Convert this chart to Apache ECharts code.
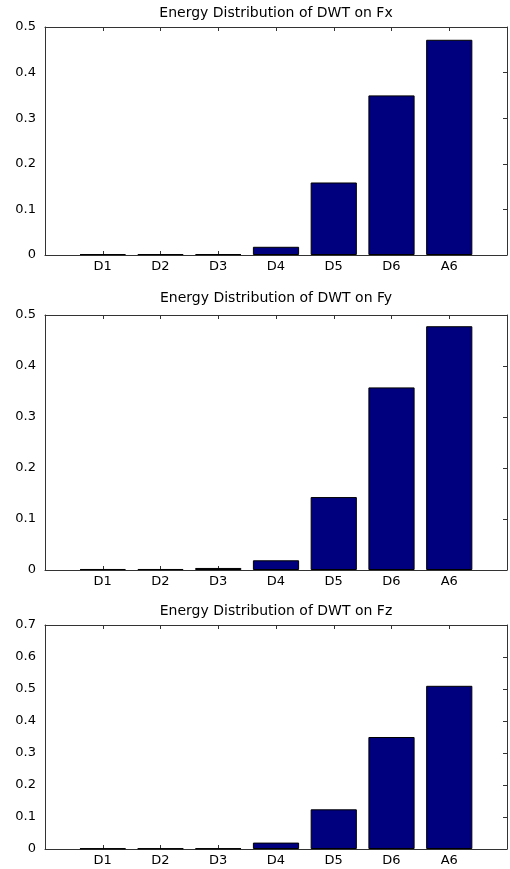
<!DOCTYPE html>
<html>
<head>
<meta charset="utf-8">
<script src="https://cdn.jsdelivr.net/npm/echarts@6/dist/echarts.min.js"></script>
<style>
html,body{margin:0;padding:0;background:#fff;}
#c{width:510px;height:869px;}
</style>
</head>
<body>
<div id="c"></div>
<script>
const categories = ['D1', 'D2', 'D3', 'D4', 'D5', 'D6', 'A6'];
const titles = ['Energy Distribution of DWT on Fx', 'Energy Distribution of DWT on Fy', 'Energy Distribution of DWT on Fz'];
const fx = [0.002, 0.002, 0.002, 0.018, 0.159, 0.350, 0.472];
const fy = [0.002, 0.002, 0.004, 0.019, 0.143, 0.358, 0.478];
const fz = [0.002, 0.002, 0.002, 0.020, 0.124, 0.350, 0.510];
const yMax = [0.5, 0.5, 0.7];
const yStep = 0.1;

const seriesValues = [fx, fy, fz];
const gridBoxes = [
  {top: 27, height: 228, titleTop: 6},
  {top: 315, height: 255, titleTop: 291},
  {top: 625, height: 224, titleTop: 604}
];
const FONT = 'DejaVu Sans';
const axisColor = '#333';

const chart = echarts.init(document.getElementById('c'), null, {renderer: 'canvas'});

const grid = [], xAxis = [], yAxis = [], series = [], title = [];
gridBoxes.forEach((g, k) => {
  grid.push({left: 45, width: 464, top: g.top, height: g.height, containLabel: false});
  title.push({
    text: titles[k], left: 276, top: g.titleTop, textAlign: 'center', padding: 0,
    textStyle: {fontFamily: FONT, fontSize: 14, fontWeight: 'normal', color: '#000'}
  });
  const xCommon = {
    type: 'value', gridIndex: k, min: 0, max: categories.length + 1, interval: 1,
    splitLine: {show: false},
    axisLine: {show: true, onZero: false, lineStyle: {color: axisColor, width: 1}},
    axisTick: {show: true, inside: true, length: 4, lineStyle: {color: axisColor}}
  };
  xAxis.push(Object.assign({}, xCommon, {
    position: 'bottom',
    axisLabel: {
      show: true, margin: 5, fontFamily: FONT, fontSize: 13, color: '#000',
      formatter: v => categories[v - 1] || ''
    }
  }));
  xAxis.push(Object.assign({}, xCommon, {position: 'top', axisLabel: {show: false}}));
  const yCommon = {
    type: 'value', gridIndex: k, min: 0, max: yMax[k], interval: yStep,
    splitLine: {show: false},
    axisLine: {show: true, onZero: false, lineStyle: {color: axisColor, width: 1}}
  };
  yAxis.push(Object.assign({}, yCommon, {
    position: 'left',
    axisTick: {show: false},
    axisLabel: {show: true, margin: 9, fontFamily: FONT, fontSize: 13, color: '#000',
      formatter: v => String(Math.round(v * 10) / 10)}
  }));
  yAxis.push(Object.assign({}, yCommon, {
    position: 'right',
    axisTick: {show: true, inside: true, length: 4, lineStyle: {color: axisColor}},
    axisLabel: {show: false}
  }));
  series.push({
    type: 'bar', xAxisIndex: 2 * k, yAxisIndex: 2 * k,
    barWidth: '80%',
    itemStyle: {color: '#00007f', borderColor: '#000', borderWidth: 1},
    data: seriesValues[k].map((v, i) => [i + 1, v]),
    animation: false
  });
});

chart.setOption({
  animation: false,
  backgroundColor: '#fff',
  title, grid, xAxis, yAxis, series
});
</script>
</body>
</html>
